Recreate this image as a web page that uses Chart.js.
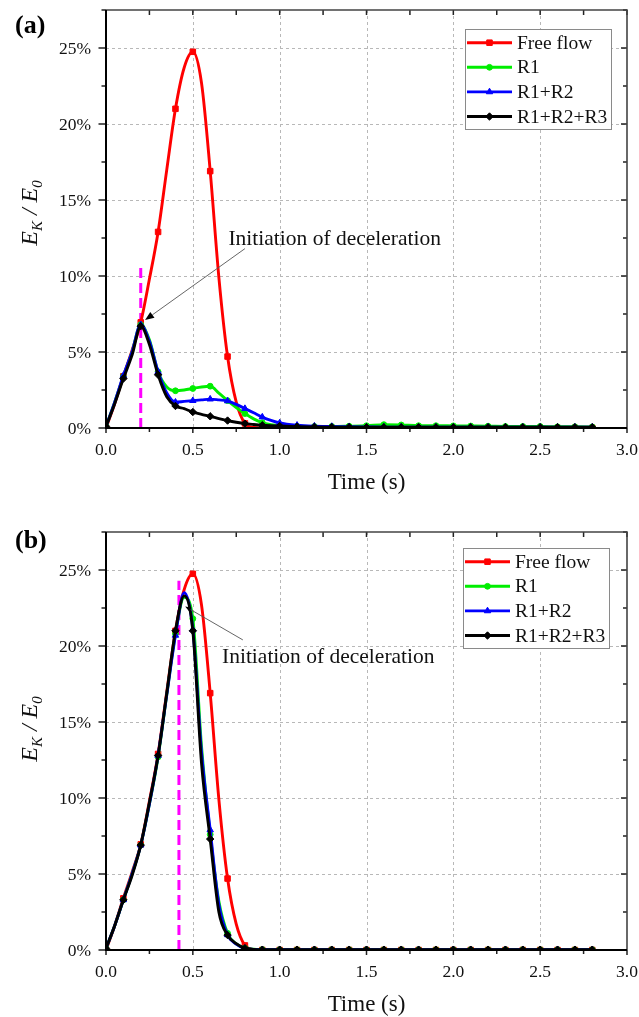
<!DOCTYPE html>
<html>
<head>
<meta charset="utf-8">
<script src="https://cdn.jsdelivr.net/npm/chart.js@4.4.1/dist/chart.umd.min.js"></script>
<style>
  html, body { margin: 0; padding: 0; background: #fff; }
  #wrap { position: relative; width: 639px; height: 1017px; }
  .panel { position: absolute; left: 0; }
</style>
</head>
<body>
<div id="wrap">
  <canvas id="chartA" class="panel" width="639" height="505" style="top:0"></canvas>
  <canvas id="chartB" class="panel" width="639" height="512" style="top:505px"></canvas>
</div>
<script>
/* ============================
   DATOS
============================ */
const time = [0, 0.05, 0.1, 0.15, 0.2, 0.25, 0.3, 0.35, 0.4, 0.45, 0.5, 0.55, 0.6, 0.65, 0.7, 0.75, 0.8, 0.85, 0.9, 0.95, 1.0,
              1.1, 1.2, 1.3, 1.4, 1.5, 1.6, 1.7, 1.8, 1.9, 2.0, 2.1, 2.2, 2.3, 2.4, 2.5, 2.6, 2.7, 2.8];

// energía cinética relativa, %
const freeFlow = [0, 1.6, 3.4, 5.1, 6.95, 9.8, 12.9, 17.0, 21.0, 23.7, 24.75, 22.7, 16.9, 9.9, 4.7, 1.7, 0.3, 0.03, 0, 0, 0,
                  0, 0, 0, 0, 0, 0, 0, 0, 0, 0, 0, 0, 0, 0, 0, 0, 0, 0];

const r1A = [0.1, 1.7, 3.4, 5.0, 6.8, 5.8, 3.7, 2.7, 2.45, 2.5, 2.6, 2.7, 2.75, 2.3, 1.8, 1.35, 0.95, 0.6, 0.35, 0.22, 0.15,
             0.12, 0.1, 0.1, 0.12, 0.15, 0.22, 0.2, 0.15, 0.15, 0.14, 0.13, 0.12, 0.1, 0.1, 0.1, 0.08, 0.08, 0.07];
const r12A = [0.1, 1.7, 3.45, 5.0, 6.8, 5.7, 3.7, 2.3, 1.7, 1.75, 1.8, 1.85, 1.9, 1.85, 1.78, 1.55, 1.28, 1.0, 0.72, 0.5, 0.33,
              0.18, 0.12, 0.1, 0.08, 0.07, 0.06, 0.06, 0.05, 0.05, 0.05, 0.05, 0.05, 0.05, 0.05, 0.05, 0.05, 0.05, 0.05];
const r123A = [0.1, 1.6, 3.25, 4.8, 6.7, 5.5, 3.5, 2.06, 1.45, 1.27, 1.05, 0.9, 0.77, 0.62, 0.49, 0.38, 0.29, 0.23, 0.18, 0.15, 0.13,
               0.09, 0.07, 0.06, 0.06, 0.05, 0.05, 0.05, 0.05, 0.05, 0.05, 0.05, 0.05, 0.05, 0.05, 0.05, 0.05, 0.05, 0.05];

const r1B = [0.1, 1.6, 3.3, 5.0, 6.9, 9.6, 12.7, 16.8, 20.8, 23.2, 21.8, 13.4, 7.6, 3.2, 1.1, 0.4, 0.12, 0.05, 0.03, 0.02, 0.02,
             0.02, 0.02, 0.02, 0.02, 0.02, 0.02, 0.02, 0.02, 0.02, 0.02, 0.02, 0.02, 0.02, 0.02, 0.02, 0.02, 0.02, 0.02];
const r12B = [0.1, 1.6, 3.3, 5.0, 6.9, 9.6, 12.8, 16.8, 20.7, 23.5, 21.1, 13.0, 7.9, 3.0, 1.0, 0.38, 0.1, 0.04, 0.02, 0.02, 0.02,
              0.02, 0.02, 0.02, 0.02, 0.02, 0.02, 0.02, 0.02, 0.02, 0.02, 0.02, 0.02, 0.02, 0.02, 0.02, 0.02, 0.02, 0.02];
const r123B = [0.1, 1.6, 3.3, 4.9, 6.9, 9.7, 12.8, 16.9, 21.0, 23.3, 21.0, 12.3, 7.3, 2.5, 0.98, 0.42, 0.12, 0.04, 0.02, 0.02, 0.02,
               0.02, 0.02, 0.02, 0.02, 0.02, 0.02, 0.02, 0.02, 0.02, 0.02, 0.02, 0.02, 0.02, 0.02, 0.02, 0.02, 0.02, 0.02];

// inicio de la deceleración (a), (b)
const decelTime = [0.2, 0.42];
const decelTop = [10.6, 24.3];

const seriesNames = ["Free flow", "R1", "R1+R2", "R1+R2+R3"];
const xTicks = [0, 0.5, 1.0, 1.5, 2.0, 2.5, 3.0];
const xTickLabels = ["0.0", "0.5", "1.0", "1.5", "2.0", "2.5", "3.0"];
const yTicks = [0, 5, 10, 15, 20, 25];
const yTickLabels = ["0%", "5%", "10%", "15%", "20%", "25%"];

/* ============================
   ESTILO
============================ */
const FONT = '"Liberation Serif", "Times New Roman", serif';
const styles = [
    { color: "#ff0000", point: "rect", radius: 3.9 },
    { color: "#00ee00", point: "circle", radius: 2.9 },
    { color: "#0000ff", point: "triangle", radius: 3.7 },
    { color: "#000000", point: "rectRot", radius: 3.7 }
];

const onGrid = v => v != null && Math.abs(v * 10 - Math.round(v * 10)) < 1e-6;

function makeSeries(i, values) {
    const st = styles[i];
    return {
        label: seriesNames[i],
        data: time.map((t, k) => ({ x: t, y: values[k] })),
        borderColor: st.color,
        backgroundColor: st.color,
        borderWidth: 2.9,
        pointStyle: st.point,
        pointRadius: c => onGrid(c.raw && c.raw.x) ? st.radius : 0,
        pointHoverRadius: 0,
        pointBorderWidth: 1,
        cubicInterpolationMode: "monotone",
        order: 3 - i
    };
}

function decelLine(k) {
    return {
        label: "",
        legend: false,
        data: [{ x: decelTime[k], y: 0 }, { x: decelTime[k], y: decelTop[k] }],
        borderColor: "#ff00ff",
        borderWidth: 3,
        borderDash: [10, 5],
        pointRadius: 0,
        tension: 0,
        order: 9
    };
}

/* ============================
   PLUGIN: marco, ejes, textos
============================ */
const framePlugin = {
    id: "frame",
    beforeDatasetsDraw(chart) {
        const { ctx, chartArea: a, scales: { x, y } } = chart;
        ctx.save();
        ctx.strokeStyle = "#b8b8b8";
        ctx.lineWidth = 1;
        ctx.setLineDash([3, 3]);
        ctx.beginPath();
        xTicks.slice(1, -1).forEach(v => {
            const px = Math.round(x.getPixelForValue(v)) + 0.5;
            ctx.moveTo(px, a.top); ctx.lineTo(px, a.bottom);
        });
        yTicks.slice(1).forEach(v => {
            const py = Math.round(y.getPixelForValue(v)) + 0.5;
            ctx.moveTo(a.left, py); ctx.lineTo(a.right, py);
        });
        ctx.stroke();
        ctx.restore();
    },
    afterDatasetsDraw(chart, args, o) {
        const { ctx, chartArea: a, scales: { x, y } } = chart;
        ctx.save();

        // ticks
        ctx.strokeStyle = "#222";
        ctx.lineWidth = 1.5;
        ctx.beginPath();
        for (let v = 0; v <= 3.0001; v += 0.25) {
            const px = x.getPixelForValue(v);
            const major = Math.abs(v * 2 - Math.round(v * 2)) < 1e-6;
            ctx.moveTo(px, a.bottom); ctx.lineTo(px, a.bottom + (major ? 5 : 4));
            ctx.moveTo(px, a.top); ctx.lineTo(px, a.top + 5);
        }
        for (let v = 0; v <= 27.5; v += 2.5) {
            const py = y.getPixelForValue(v);
            const major = Math.abs(v / 5 - Math.round(v / 5)) < 1e-6;
            ctx.moveTo(a.left, py); ctx.lineTo(a.left - (major ? 7.5 : 4.5), py);
            ctx.moveTo(a.right, py); ctx.lineTo(a.right - (major ? 6 : 4), py);
        }
        ctx.stroke();

        // marco
        ctx.lineWidth = 1.6;
        ctx.strokeStyle = "#444";
        ctx.beginPath();
        ctx.moveTo(a.left, a.top); ctx.lineTo(a.right, a.top); ctx.lineTo(a.right, a.bottom);
        ctx.stroke();
        ctx.lineWidth = 2;
        ctx.strokeStyle = "#000";
        ctx.beginPath();
        ctx.moveTo(a.left, a.top); ctx.lineTo(a.left, a.bottom); ctx.lineTo(a.right, a.bottom);
        ctx.stroke();

        // etiquetas de ticks
        ctx.fillStyle = "#111";
        ctx.font = "17.5px " + FONT;
        ctx.textAlign = "center";
        ctx.textBaseline = "middle";
        xTicks.forEach((v, i) => ctx.fillText(xTickLabels[i], x.getPixelForValue(v), a.bottom + 22));
        ctx.textAlign = "right";
        yTicks.forEach((v, i) => ctx.fillText(yTickLabels[i], a.left - 15, y.getPixelForValue(v) + 1));

        // título eje x
        ctx.textAlign = "center";
        ctx.font = "23px " + FONT;
        ctx.fillText("Time (s)", (a.left + a.right) / 2, a.bottom + 55);

        // título eje y: E_K / E_0
        ctx.save();
        ctx.translate(37, o.yTitleY);
        ctx.rotate(-Math.PI / 2);
        const big = "italic 24px " + FONT, small = "italic 15px " + FONT;
        const parts = [["E", big, 0], ["K", small, 5], [" / ", big, 0], ["E", big, 0], ["0", small, 5]];
        let total = 0;
        parts.forEach(p => { ctx.font = p[1]; total += ctx.measureText(p[0]).width; });
        let cx = -total / 2;
        ctx.textAlign = "left";
        ctx.textBaseline = "alphabetic";
        parts.forEach(p => {
            ctx.font = p[1];
            ctx.fillText(p[0], cx, p[2]);
            cx += ctx.measureText(p[0]).width;
        });
        ctx.restore();

        // etiqueta del panel
        ctx.font = "bold 26px " + FONT;
        ctx.textAlign = "left";
        ctx.textBaseline = "middle";
        ctx.fillStyle = "#000";
        ctx.fillText(o.panel, 15, o.panelY);

        // anotación con flecha
        const an = o.note;
        const tx = x.getPixelForValue(an.tail[0]), ty = y.getPixelForValue(an.tail[1]);
        const hx = x.getPixelForValue(an.tip[0]), hy = y.getPixelForValue(an.tip[1]);
        const ang = Math.atan2(hy - ty, hx - tx);
        ctx.strokeStyle = "#555";
        ctx.lineWidth = 0.9;
        ctx.beginPath();
        ctx.moveTo(tx, ty);
        ctx.lineTo(hx - Math.cos(ang) * an.head, hy - Math.sin(ang) * an.head);
        ctx.stroke();
        ctx.fillStyle = "#000";
        ctx.beginPath();
        ctx.moveTo(hx, hy);
        ctx.lineTo(hx - Math.cos(ang) * an.head - Math.sin(ang) * an.head * 0.4,
                   hy - Math.sin(ang) * an.head + Math.cos(ang) * an.head * 0.4);
        ctx.lineTo(hx - Math.cos(ang) * an.head + Math.sin(ang) * an.head * 0.4,
                   hy - Math.sin(ang) * an.head - Math.cos(ang) * an.head * 0.4);
        ctx.closePath();
        ctx.fill();
        ctx.font = "21.5px " + FONT;
        ctx.textAlign = "left";
        ctx.textBaseline = "alphabetic";
        ctx.fillStyle = "#111";
        ctx.fillText("Initiation of deceleration", x.getPixelForValue(an.text[0]), y.getPixelForValue(an.text[1]));

        // leyenda
        const lg = o.legendBox;
        ctx.fillStyle = "#fff";
        ctx.fillRect(lg.left, lg.top, lg.width, lg.height);
        ctx.strokeStyle = "#8a8a8a";
        ctx.lineWidth = 1;
        ctx.strokeRect(lg.left + 0.5, lg.top + 0.5, lg.width, lg.height);
        chart.data.datasets.filter(d => d.legend !== false).forEach((d, i) => {
            const cy = lg.top + 13.7 + i * 24.6;
            ctx.strokeStyle = d.borderColor;
            ctx.lineWidth = 2.9;
            ctx.beginPath();
            ctx.moveTo(lg.left + 2, cy); ctx.lineTo(lg.left + 47, cy);
            ctx.stroke();
            ctx.fillStyle = d.borderColor;
            ctx.lineWidth = 1;
            Chart.helpers.drawPoint(ctx, { pointStyle: d.pointStyle, rotation: 0, radius: styles[i].radius, borderWidth: 1 }, lg.left + 24.5, cy);
            ctx.fillStyle = "#111";
            ctx.font = "19.5px " + FONT;
            ctx.textAlign = "left";
            ctx.textBaseline = "middle";
            ctx.fillText(d.label, lg.left + 52, cy + 1);
        });

        ctx.restore();
    }
};

/* ============================
   GRÁFICOS
============================ */
function makeChart(id, values, k, cfg) {
    const datasets = values.map((v, i) => makeSeries(i, v));
    datasets.push(decelLine(k));
    return new Chart(document.getElementById(id), {
        type: "line",
        data: { datasets },
        options: {
            responsive: false,
            animation: false,
            events: [],
            layout: { padding: { left: 0, right: 12, top: cfg.padTop, bottom: 0 } },
            scales: {
                x: {
                    type: "linear", min: 0, max: 3,
                    grid: { display: false, drawTicks: false },
                    border: { display: false },
                    ticks: { display: false },
                    afterFit: s => { s.height = cfg.xHeight; }
                },
                y: {
                    min: 0, max: 27.5,
                    grid: { display: false, drawTicks: false },
                    border: { display: false },
                    ticks: { display: false },
                    afterFit: s => { s.width = 106; }
                }
            },
            plugins: {
                legend: { display: false },
                tooltip: { enabled: false },
                frame: cfg.frame
            }
        },
        plugins: [framePlugin]
    });
}

makeChart("chartA", [freeFlow, r1A, r12A, r123A], 0, {
    padTop: 10, xHeight: 77,
    frame: {
        panel: "(a)", panelY: 26, yTitleY: 213,
        note: { text: [0.705, 12.04], tail: [0.80, 11.8], tip: [0.225, 7.1], head: 9 },
        legendBox: { left: 465, top: 29, width: 146, height: 100 }
    }
});

makeChart("chartB", [freeFlow, r1B, r12B, r123B], 1, {
    padTop: 27, xHeight: 67,
    frame: {
        panel: "(b)", panelY: 36, yTitleY: 224,
        note: { text: [0.668, 18.86], tail: [0.788, 20.4], tip: [0.456, 22.6], head: 6 },
        legendBox: { left: 463, top: 43, width: 146, height: 100 }
    }
});
</script>
</body>
</html>
